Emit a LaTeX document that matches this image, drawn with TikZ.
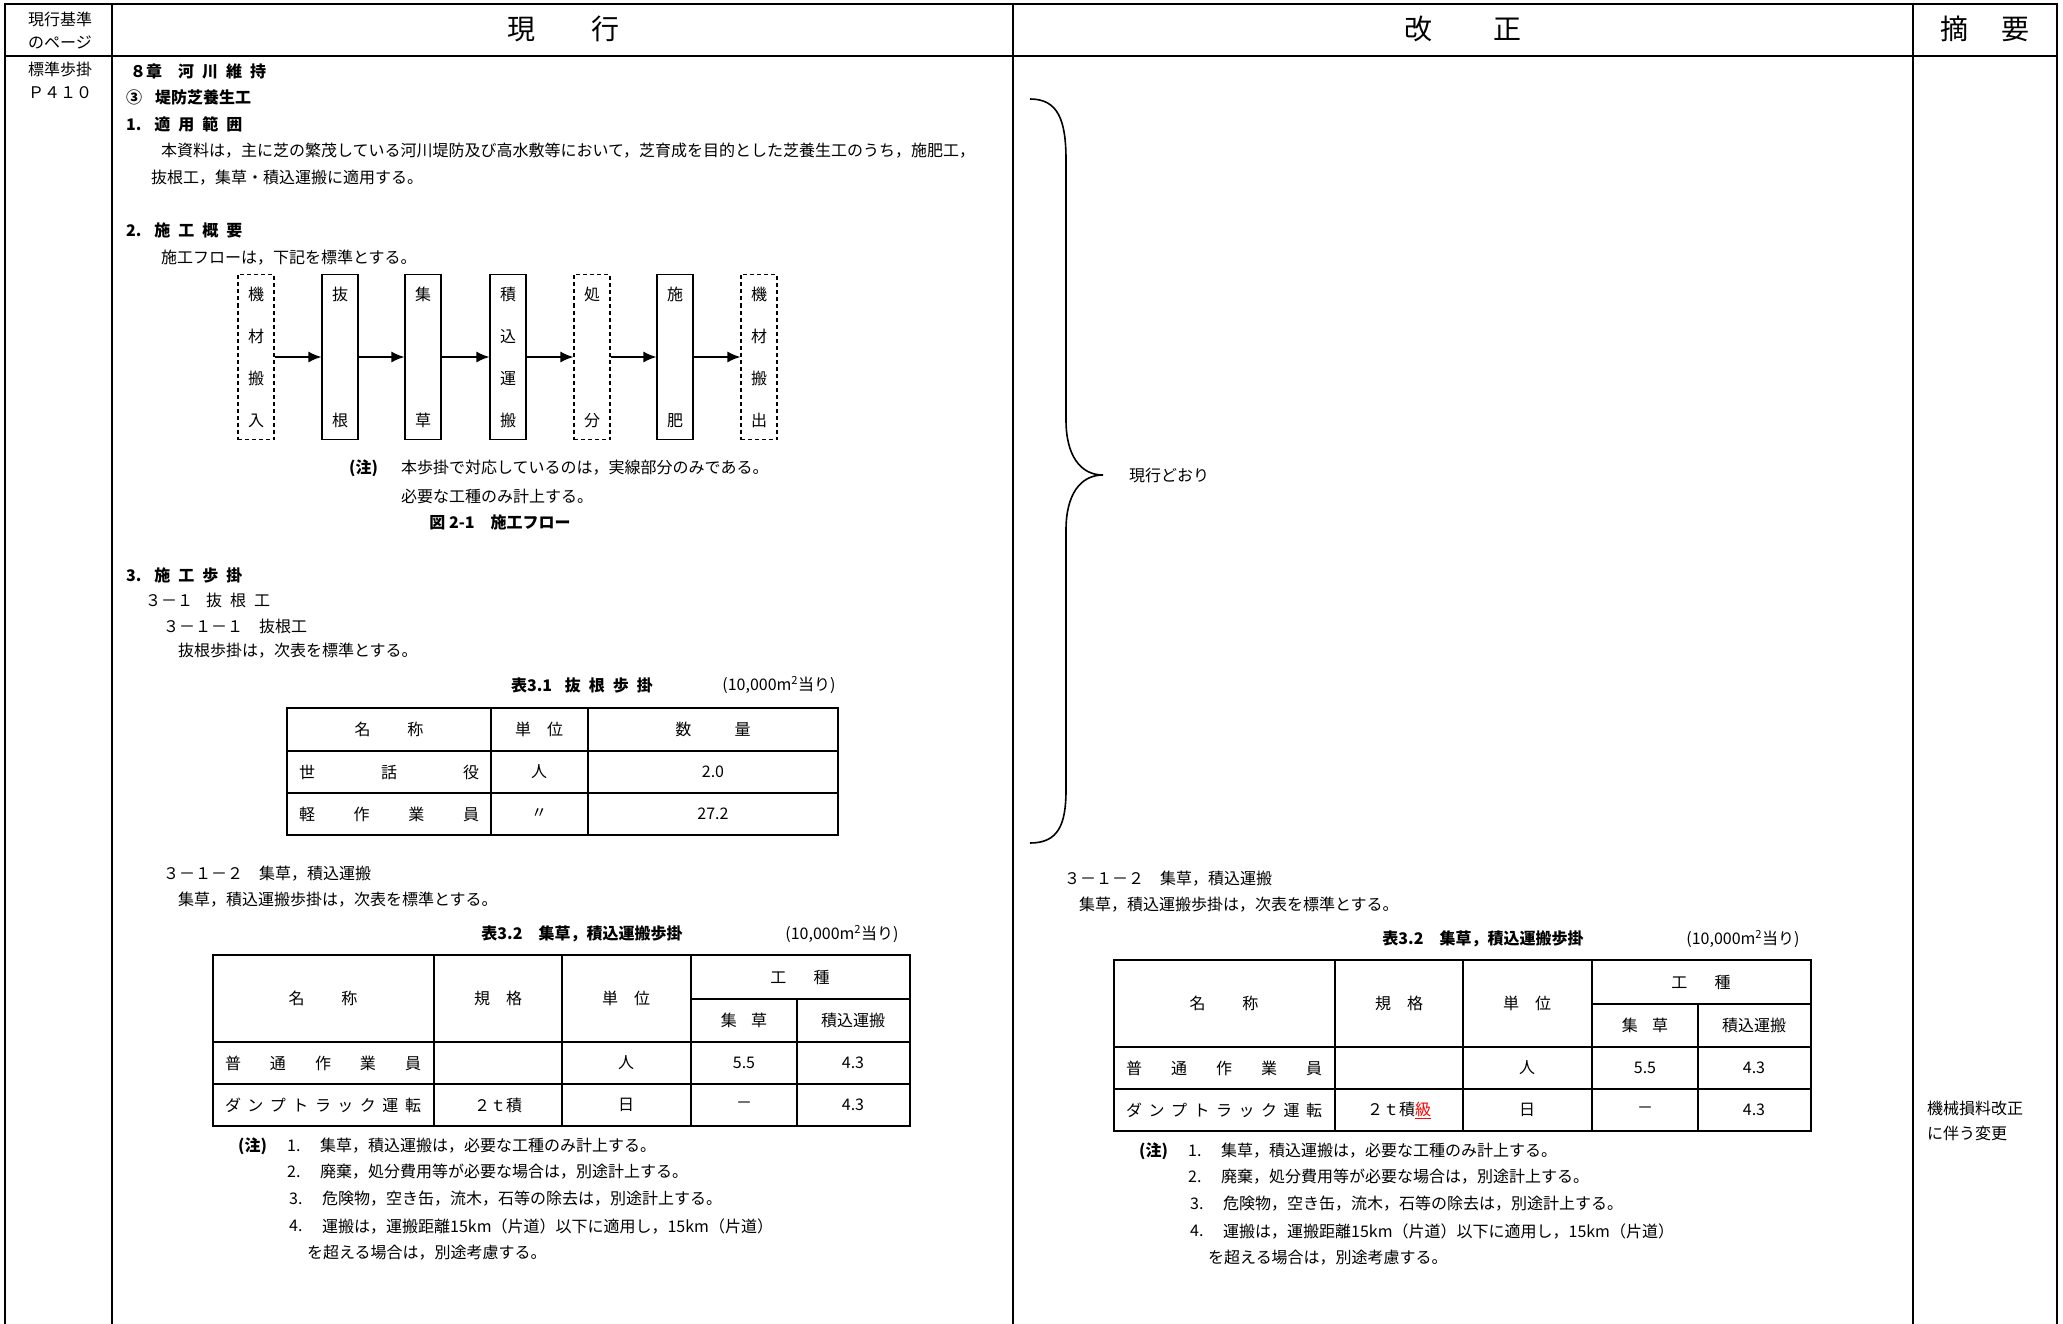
\documentclass[tikz,border=0pt]{standalone}
\usepackage{fontspec}
\setmainfont{Noto Sans CJK JP}
\usetikzlibrary{positioning}
\usetikzlibrary{positioning, arrows.meta}

\newcommand{\jgap}{\hspace{0.5em}}
% 3-1-2 block (used for both columns)
\newcommand{\shuusoblock}[1]{%
	\node[body] (t312) at (163,874) {３－１－２\hspace{1em}集草，積込運搬};
	\node[body] (t312txt) at (178,900) {集草，積込運搬歩掛は，次表を標準とする。};
	\node[cell] (tab2cap) at (582,934) {{\bf 表3.2\hspace{1em}集草，積込運搬歩掛}};
	\node[cell] (tab2unit) at (842,934) {(10,000m\textsuperscript{2}当り)};
	\draw[tabouter] (213,955) rectangle (910,1126);
	\draw[tabinner] (434,955) -- (434,1126) (562,955) -- (562,1126) (691,955) -- (691,1126)
		(797,999) -- (797,1126) (691,999) -- (910,999);
	\draw[tabouter] (213,1042) -- (910,1042);
	\draw[tabinner] (213,1084) -- (910,1084);
	\node[cell] (hname) at (323,998) {名\hspace{2.3em}称};
	\node[cell] (hspec) at (498,998) {規\hspace{1em}格};
	\node[cell] (hunit) at (626,998) {単\hspace{1em}位};
	\node[cell] (hkind) at (800,977) {工\hspace{1.7em}種};
	\node[cell] (hshuso) at (744,1020) {集\hspace{0.9em}草};
	\node[cell] (hload) at (853,1020) {積込運搬};
	\node[cell] (worker) at (323,1063) {\makebox[196pt]{普\hfill 通\hfill 作\hfill 業\hfill 員}};
	\node[cell] (wunit) at (626,1063) {人};
	\node[cell] (wshuso) at (744,1063) {5.5};
	\node[cell] (wload) at (853,1063) {4.3};
	\node[cell] (dump) at (323,1105) {\makebox[196pt]{ダ\hfill ン\hfill プ\hfill ト\hfill ラ\hfill ッ\hfill ク\hfill 運\hfill 転}};
	\node[cell] (dspec) at (498,1105) {２ｔ積#1};
	\node[cell] (dunit) at (626,1105) {日};
	\node[cell] (dshuso) at (744,1105) {－};
	\node[cell] (dload) at (853,1105) {4.3};
	\node[body] (note) at (238,1146) {{\bf (注)}};
	\node[body] (n1) at (287,1146) {1.};
	\node[body] (n1txt) at (320,1146) {集草，積込運搬は，必要な工種のみ計上する。};
	\node[body] (n2) at (287,1172) {2.};
	\node[body] (n2txt) at (320,1172) {廃棄，処分費用等が必要な場合は，別途計上する。};
	\node[body] (n3) at (289,1199) {3.};
	\node[body] (n3txt) at (322,1199) {危険物，空き缶，流木，石等の除去は，別途計上する。};
	\node[body] (n4) at (289,1226) {4.};
	\node[body] (n4txt) at (322,1226) {運搬は，運搬距離15km（片道）以下に適用し，15km（片道）};
	\node[body] (n4cont) at (307,1253) {を超える場合は，別途考慮する。};
}

\begin{document}
\begin{tikzpicture}[x=1pt,y=-1pt,
		txt/.style={inner sep=0pt,font=\fontsize{16}{19}\selectfont},
		body/.style={txt,anchor=west},
		cell/.style={txt},
		flowbox/.style={draw,line width=1.2pt,minimum width=36pt,minimum height=165pt,inner sep=0pt,align=center,font=\fontsize{16}{42}\selectfont},
		dashbox/.style={flowbox,dash pattern=on 4pt off 3pt},
		flowarrow/.style={-{Latex[length=13pt,width=11pt]},line width=1.4pt},
		framerule/.style={line width=2.4pt},
		tabouter/.style={line width=2pt},
		tabinner/.style={line width=1.3pt}]
	\useasboundingbox (0,0) rectangle (2063,1324);

	% frame
	\draw[framerule] (5,1324) -- (5,4) -- (2057,4) -- (2057,1324);
	\draw[framerule] (5,56) -- (2057,56);
	\draw[framerule] (112,4) -- (112,1324) (1013,4) -- (1013,1324) (1913,4) -- (1913,1324);
	\node[cell] (pagehead1) at (60,19) {現行基準};
	\node[cell] (pagehead2) at (60,42) {のページ};
	\node[cell,font=\fontsize{28}{32}\selectfont] (curhead) at (563,29) {現\hspace{2em}行};
	\node[cell,font=\fontsize{28}{32}\selectfont] (revhead) at (1463,29) {改\hspace{2.2em}正};
	\node[cell,font=\fontsize{28}{32}\selectfont] (sumhead) at (1985,29) {摘\hspace{1.2em}要};
	\node[cell] (page1) at (60,69) {標準歩掛};
	\node[cell] (page2) at (60,93) {Ｐ４１０};

	% current
	\node[body] (chap) at (130,71) {{\bf ８章　河\jgap 川\jgap 維\jgap 持}};
	\node[body] (sect) at (126,97) {{\bf ③\hspace{0.8em}堤防芝養生工}};
	\node[body] (s1) at (126,124) {{\bf 1.\hspace{0.8em}適\jgap 用\jgap 範\jgap 囲}};
	\node[body] (s1txt) at (161,151) {本資料は，主に芝の繁茂している河川堤防及び高水敷等において，芝育成を目的とした芝養生工のうち，施肥工，};
	\node[body] (s1txt2) at (151,178) {抜根工，集草・積込運搬に適用する。};
	\node[body] (s2) at (126,230) {{\bf 2.\hspace{0.8em}施\jgap 工\jgap 概\jgap 要}};
	\node[body] (s2txt) at (161,258) {施工フローは，下記を標準とする。};

	\node[dashbox] (kizai1) at (256,357) {機\\材\\搬\\入};
	\node[flowbox] (bakkon) at (340,357) {抜\\[84pt]根};
	\node[flowbox] (shuso) at (423,357) {集\\[84pt]草};
	\node[flowbox] (tsumi) at (508,357) {積\\込\\運\\搬};
	\node[dashbox] (shobun) at (592,357) {処\\[84pt]分};
	\node[flowbox] (sehi) at (675,357) {施\\[84pt]肥};
	\node[dashbox] (kizai2) at (759,357) {機\\材\\搬\\出};
	\draw[flowarrow] (kizai1) -- (bakkon);
	\draw[flowarrow] (bakkon) -- (shuso);
	\draw[flowarrow] (shuso) -- (tsumi);
	\draw[flowarrow] (tsumi) -- (shobun);
	\draw[flowarrow] (shobun) -- (sehi);
	\draw[flowarrow] (sehi) -- (kizai2);
	\node[body] (flownote) at (349,468) {{\bf (注)}};
	\node[body] (flownote1) at (401,468) {本歩掛で対応しているのは，実線部分のみである。};
	\node[body] (flownote2) at (401,496) {必要な工種のみ計上する。};
	\node[cell] (flowcap) at (500,522) {{\bf 図 2-1\hspace{1em}施工フロー}};

	\node[body] (s3) at (126,575) {{\bf 3.\hspace{0.8em}施\jgap 工\jgap 歩\jgap 掛}};
	\node[body] (s31) at (145,600) {３－１\hspace{0.8em}抜\jgap 根\jgap 工};
	\node[body] (s311) at (163,626) {３－１－１\hspace{1em}抜根工};
	\node[body] (s311txt) at (178,651) {抜根歩掛は，次表を標準とする。};
	\node[cell] (tab1cap) at (582,685) {{\bf 表3.1\hspace{0.8em}抜\jgap 根\jgap 歩\jgap 掛}};
	\node[cell] (tab1unit) at (779,685) {(10,000m\textsuperscript{2}当り)};
	\draw[tabouter] (287,708) rectangle (838,835);
	\draw[tabinner] (491,708) -- (491,835) (588,708) -- (588,835) (287,751) -- (838,751) (287,793) -- (838,793);
	\node[cell] (t1name) at (389,729) {名\hspace{2.3em}称};
	\node[cell] (t1unit) at (539,729) {単\hspace{1em}位};
	\node[cell] (t1qty) at (713,729) {数\hspace{2.7em}量};
	\node[cell] (sewa) at (389,772) {\makebox[180pt]{世\hfill 話\hfill 役}};
	\node[cell] (sewaunit) at (539,772) {人};
	\node[cell] (sewaqty) at (713,772) {2.0};
	\node[cell] (kei) at (389,814) {\makebox[180pt]{軽\hfill 作\hfill 業\hfill 員}};
	\node[cell] (keiunit) at (539,814) {〃};
	\node[cell] (keiqty) at (713,814) {27.2};

	\begin{scope}[name prefix=cur-]
		\shuusoblock{}
	\end{scope}

	% revised
	\draw[line width=1.6pt] (1030,99) .. controls (1058,99) and (1066,120) .. (1066,160) -- (1066,420)
		.. controls (1066,455) and (1080,475) .. (1103,475)
		.. controls (1080,475) and (1066,495) .. (1066,530) -- (1066,790)
		.. controls (1066,825) and (1058,843) .. (1030,843);
	\node[body] (same) at (1129,475) {現行どおり};
	\begin{scope}[shift={(901,5)},name prefix=rev-]
		\shuusoblock{{\color{red}\underline{級}}}
	\end{scope}

	% summary
	\node[body] (sum1) at (1927,1108) {機械損料改正};
	\node[body] (sum2) at (1927,1133) {に伴う変更};
\end{tikzpicture}
\end{document}
